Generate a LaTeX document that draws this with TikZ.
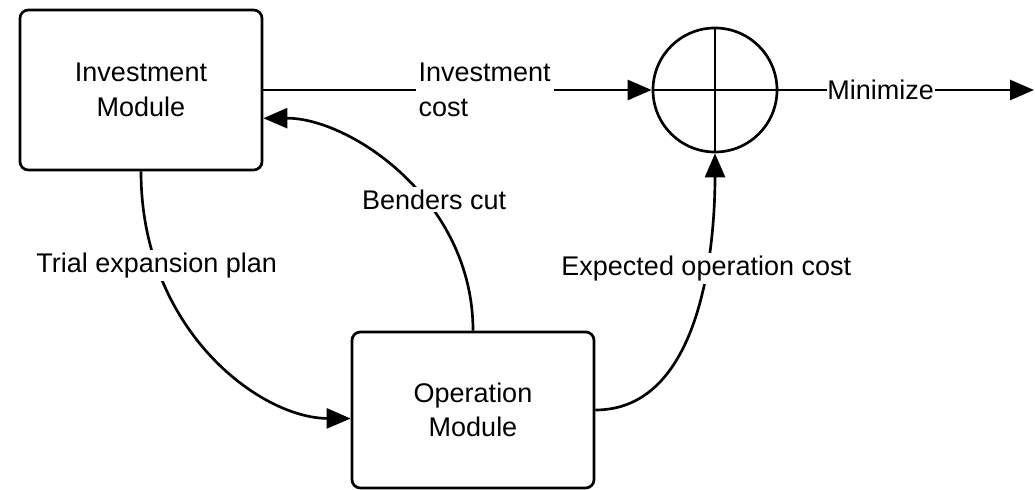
\documentclass[tikz,border=0pt]{standalone}
\usepackage{fontspec}
\setmainfont{Liberation Sans}
\usetikzlibrary{positioning,arrows.meta}
\tikzset{
  box/.style={draw, rounded corners=6pt, align=center, line width=1.9pt,
              minimum width=6.05cm, minimum height=4cm},
  arr/.style={-{Triangle[length=6mm, width=5mm]}, line width=1.9pt},
  lbl/.style={fill=white, inner sep=2pt, align=left},
}

\begin{document}
\begin{tikzpicture}[x=0.025cm, y=-0.025cm, font=\fontsize{19.2}{24.5}\selectfont]
  \useasboundingbox (0,0) rectangle (1035,490);
  % modules
  \node[box] (inv) at (141,90) {Investment\\Module};
  \node[box, minimum height=3.9cm] (op) at (473,410) {Operation\\Module};
  % summing junction
  \node[circle, draw, line width=1.9pt, minimum size=3.1cm, inner sep=0pt] (sum) at (715,90) {};
  \draw[line width=1.9pt] (sum.north) -- (sum.south) (sum.west) -- (sum.east);
  \coordinate (goal) at (1034,90);
  % arrows
  \draw[arr] (inv.east) -- node[lbl, pos=0.57] {Investment\\cost} (sum.west);
  \draw[arr] (op.north) .. controls (473,200) and (350,118) ..
    node[lbl, pos=0.4, xshift=2.5mm] {Benders cut} (inv.-13);
  \draw[arr] (inv.south) .. controls (141,330) and (260,418) ..
    node[lbl, pos=0.22] {Trial expansion plan} (op.-176);
  \draw[arr] (op.east) .. controls (700,410) and (715,250) ..
    node[lbl, pos=0.65] {Expected operation cost} (sum.south);
  \draw[arr] (sum.east) -- node[lbl, pos=0.4, inner sep=0.5pt] {Minimize} (goal);
\end{tikzpicture}
\end{document}
